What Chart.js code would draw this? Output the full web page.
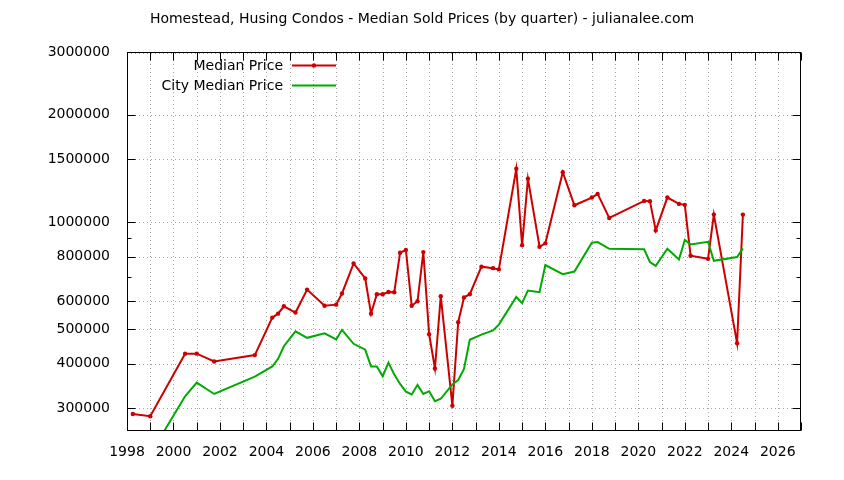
<!DOCTYPE html>
<html>
<head>
<meta charset="utf-8">
<script src="https://cdn.jsdelivr.net/npm/chart.js@4/dist/chart.umd.min.js"></script>
<style>
  html, body { margin: 0; padding: 0; background: #ffffff; }
  #wrap { width: 844px; height: 480px; }
</style>
</head>
<body>
<div id="wrap"><canvas id="c" width="844" height="480"></canvas></div>
<script>
// ---- data (decimal year of each quarter, price in $) ----
const chartTitle = 'Homestead, Husing Condos - Median Sold Prices (by quarter) - julianalee.com';
const seriesNames = ['Median Price', 'City Median Price'];

const medianQuarters = [1998.25, 1999.0, 2000.5, 2001.0, 2001.75, 2003.5, 2004.25, 2004.5, 2004.75, 2005.25,
  2005.75, 2006.5, 2007.0, 2007.25, 2007.75, 2008.25, 2008.5, 2008.75, 2009.0, 2009.25,
  2009.5, 2009.75, 2010.0, 2010.25, 2010.5, 2010.75, 2011.0, 2011.25, 2011.5, 2012.0,
  2012.25, 2012.5, 2012.75, 2013.25, 2013.75, 2014.0, 2014.75, 2015.0, 2015.25, 2015.75,
  2016.0, 2016.75, 2017.25, 2018.0, 2018.25, 2018.75, 2020.25, 2020.5, 2020.75, 2021.25,
  2021.75, 2022.0, 2022.25, 2023.0, 2023.25, 2024.25, 2024.5];
const medianPrice = [289000, 285000, 427000, 427000, 406000, 423000, 539000, 553000, 580000, 557000,
  646000, 582000, 586000, 630000, 765000, 694000, 553000, 627000, 627000, 636000,
  635000, 820000, 834000, 582000, 599000, 823000, 484000, 388000, 619000, 305000,
  523000, 614000, 627000, 749000, 742000, 736000, 1410000, 860000, 1322000, 852000,
  871000, 1380000, 1114000, 1171000, 1199000, 1026000, 1146000, 1144000, 947000, 1171000,
  1124000, 1117000, 804000, 788000, 1049000, 457000, 1049000];

const cityQuarters = [1999.0, 2000.5, 2001.0, 2001.75, 2003.5, 2004.25, 2004.5, 2004.75, 2005.25,
  2005.75, 2006.5, 2007.0, 2007.25, 2007.75, 2008.25, 2008.5, 2008.75, 2009.0, 2009.25,
  2009.5, 2009.75, 2010.0, 2010.25, 2010.5, 2010.75, 2011.0, 2011.25, 2011.5, 2012.0,
  2012.25, 2012.5, 2012.75, 2013.25, 2013.75, 2014.0, 2014.75, 2015.0, 2015.25, 2015.75,
  2016.0, 2016.75, 2017.25, 2018.0, 2018.25, 2018.75, 2020.25, 2020.5, 2020.75, 2021.25,
  2021.75, 2022.0, 2022.25, 2023.0, 2023.25, 2024.25, 2024.5];
const cityMedianPrice = [223000, 324000, 354000, 329000, 368000, 393000, 413000, 448000, 493000,
  473000, 487000, 468000, 498000, 455000, 438000, 393000, 393000, 369000, 403000,
  373000, 351000, 334000, 328000, 349000, 329000, 335000, 314000, 319000, 350000,
  360000, 387000, 467000, 483000, 496000, 515000, 616000, 592000, 642000, 635000,
  757000, 714000, 726000, 875000, 878000, 841000, 838000, 772000, 753000, 841000,
  785000, 890000, 865000, 880000, 778000, 797000, 843000];

const xTickLabels = [1998, 2000, 2002, 2004, 2006, 2008, 2010, 2012, 2014, 2016, 2018, 2020, 2022, 2024, 2026];
const yTickLabels = [300000, 400000, 500000, 600000, 800000, 1000000, 1500000, 2000000, 3000000];
const yMinorTicks = [700000, 900000];

// ---- drawing ----
const FONT = '"DejaVu Sans", Verdana, sans-serif';
const RED = '#cc0000';
const GREEN = '#00aa00';

const gnuplotLook = {
  id: 'gnuplotLook',
  beforeDatasetsDraw(chart) {
    const { ctx, chartArea: a, scales: { x, y } } = chart;
    ctx.save();
    ctx.strokeStyle = '#a8a8a8';
    ctx.lineWidth = 1;
    ctx.setLineDash([1, 3]);
    yTickLabels.forEach(v => {
      const py = Math.round(y.getPixelForValue(v)) + 0.5;
      if (py >= a.bottom - 1) return;
      ctx.beginPath(); ctx.moveTo(a.left, py + (py <= a.top + 1 ? 1 : 0)); ctx.lineTo(a.right, py + (py <= a.top + 1 ? 1 : 0)); ctx.stroke();
    });
    for (let yr = Math.ceil(x.min); yr <= x.max; yr++) {
      const px = Math.round(x.getPixelForValue(yr)) + 0.5;
      if (px <= a.left + 1 || px >= a.right - 1) continue;
      ctx.beginPath(); ctx.moveTo(px, a.top); ctx.lineTo(px, a.bottom); ctx.stroke();
    }
    ctx.restore();
  },
  afterDatasetsDraw(chart) {
    const { ctx, chartArea: a, scales: { x, y } } = chart;
    ctx.save();
    ctx.setLineDash([]);
    ctx.strokeStyle = '#000000';
    ctx.lineWidth = 1;
    const L = Math.round(a.left) + 0.5, R = Math.round(a.right) - 0.5;
    const T = Math.round(a.top) + 0.5, B = Math.round(a.bottom) - 0.5;
    // ticks on x (every year, bottom and top)
    for (let yr = Math.ceil(x.min); yr <= x.max; yr++) {
      const px = Math.round(x.getPixelForValue(yr)) + 0.5;
      ctx.beginPath();
      ctx.moveTo(px, B); ctx.lineTo(px, B - 8);
      ctx.moveTo(px, T); ctx.lineTo(px, T + 8);
      ctx.stroke();
    }
    // ticks on y (major + minor, left and right)
    const yTick = (v, len) => {
      const py = Math.round(y.getPixelForValue(v)) + 0.5;
      ctx.beginPath();
      ctx.moveTo(L, py); ctx.lineTo(L + len, py);
      ctx.moveTo(R, py); ctx.lineTo(R - len, py);
      ctx.stroke();
    };
    yTickLabels.forEach(v => yTick(v, 8));
    yMinorTicks.forEach(v => yTick(v, 4));
    // frame
    ctx.strokeRect(L, T, R - L, B - T);

    // title
    ctx.fillStyle = '#000000';
    ctx.font = '14px ' + FONT;
    ctx.textAlign = 'center';
    ctx.textBaseline = 'middle';
    ctx.fillText(chartTitle, 422, 19);

    // legend
    const rows = [66, 86];
    chart.data.datasets.forEach((ds, i) => {
      const ly = rows[i];
      ctx.textAlign = 'right';
      ctx.fillStyle = '#000000';
      ctx.fillText(ds.label, 283, ly);
      ctx.strokeStyle = ds.borderColor;
      ctx.lineWidth = 2;
      ctx.beginPath(); ctx.moveTo(292, ly - 0.5); ctx.lineTo(336, ly - 0.5); ctx.stroke();
      if (ds.pointRadius > 0) {
        ctx.fillStyle = ds.borderColor;
        ctx.beginPath(); ctx.arc(314, ly - 0.5, ds.pointRadius, 0, Math.PI * 2); ctx.fill();
      }
    });
    ctx.restore();
  }
};

new Chart(document.getElementById('c'), {
  type: 'scatter',
  data: {
    datasets: [
      {
        label: seriesNames[0],
        data: medianQuarters.map((q, i) => ({ x: q, y: medianPrice[i] })),
        showLine: true,
        borderColor: RED,
        backgroundColor: RED,
        borderWidth: 2,
        pointRadius: 2.2,
        pointHoverRadius: 2.2,
        pointBorderWidth: 0,
        tension: 0,
        order: 1
      },
      {
        label: seriesNames[1],
        data: cityQuarters.map((q, i) => ({ x: q, y: cityMedianPrice[i] })),
        showLine: true,
        borderColor: GREEN,
        backgroundColor: GREEN,
        borderWidth: 2,
        pointRadius: 0,
        pointHoverRadius: 0,
        tension: 0,
        order: 0
      }
    ]
  },
  options: {
    responsive: false,
    animation: false,
    events: [],
    layout: { padding: { top: 52, right: 43, left: 0, bottom: 0 } },
    plugins: {
      legend: { display: false },
      tooltip: { enabled: false },
      title: { display: false }
    },
    scales: {
      x: {
        type: 'linear',
        min: 1998,
        max: 2027,
        grid: { display: false },
        border: { display: false },
        afterBuildTicks: s => { s.ticks = xTickLabels.map(v => ({ value: v })); },
        afterFit: s => { s.height = 49; },
        ticks: {
          autoSkip: false,
          maxRotation: 0,
          padding: 5,
          color: '#000000',
          font: { family: FONT, size: 14 },
          callback: v => String(v)
        }
      },
      y: {
        type: 'logarithmic',
        min: 259000,
        max: 3000000,
        grid: { display: false },
        border: { display: false },
        afterBuildTicks: s => { s.ticks = yTickLabels.map(v => ({ value: v })); },
        afterFit: s => { s.width = 127; },
        ticks: {
          autoSkip: false,
          padding: 9,
          color: '#000000',
          font: { family: FONT, size: 14 },
          callback: v => String(v)
        }
      }
    }
  },
  plugins: [gnuplotLook]
});
</script>
</body>
</html>
